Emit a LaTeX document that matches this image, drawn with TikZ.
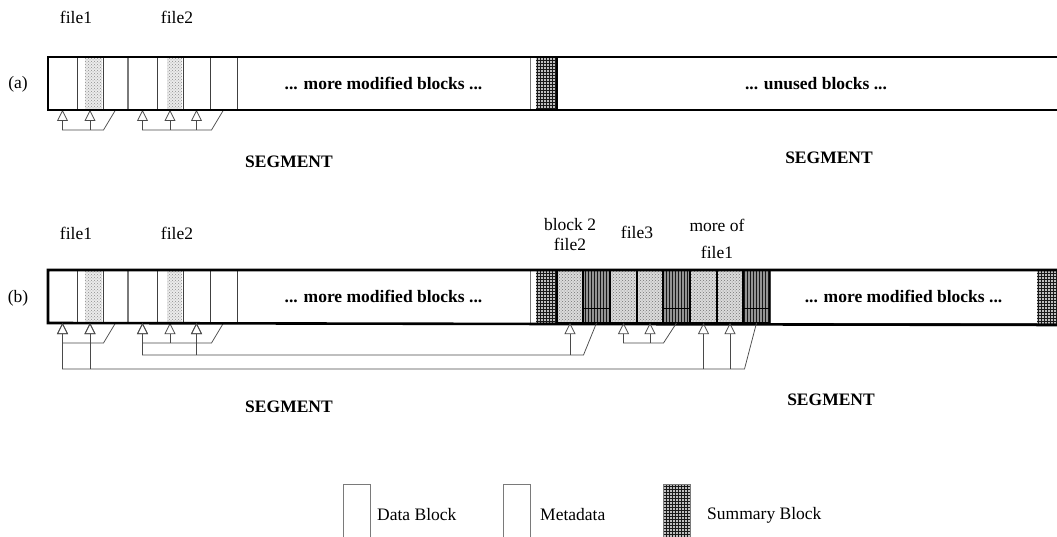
\documentclass[tikz,border=0pt]{standalone}
\usepackage{fontspec}
\setmainfont{Liberation Serif}
\usetikzlibrary{arrows.meta,positioning,patterns}
\definecolor{linkgray}{HTML}{4A4A4A}
\definecolor{edgegray}{HTML}{7A7A7A}
\tikzset{
  datablk/.style={draw=black!75,line width=.8pt,minimum height=53pt,inner sep=0pt,outer sep=0pt},
  metablk/.style={datablk},
  gapblk/.style={datablk,font=\fontsize{17.5}{20}\selectfont\bfseries},
  newblk/.style={datablk,draw=black,line width=1.4pt,preaction={fill=black!14},pattern=crosshatch dots,pattern color=black!55},
  newmeta/.style={datablk,draw=black,line width=1.4pt,preaction={fill=black!42},pattern=vertical lines,pattern color=black!90},
  sumfill/.style={preaction={fill=black!25},pattern=grid,pattern color=black!90},
  stipple/.style={preaction={fill=black!8},pattern=crosshatch dots,pattern color=black!45},
  frame/.style={line width=2.6pt,black},
  link/.style={draw=linkgray,line width=.75pt},
  ptr/.style={link,-{Triangle[open,length=11pt,width=11pt]}},
  lbl/.style={font=\fontsize{17.5}{20}\selectfont,inner sep=2pt},
  seglbl/.style={lbl,font=\fontsize{17.5}{20}\selectfont\bfseries},
  legblk/.style={draw=edgegray,line width=1pt,minimum width=27pt,minimum height=62pt,inner sep=0pt,outer sep=0pt,anchor=north west},
}
\begin{document}
\begin{tikzpicture}[x=1pt,y=-1pt]
  \useasboundingbox (0,0) rectangle (1057,537);
  % the two log rows share the same first segment
  \foreach \r/\y in {a/57,b/270}{
    \node[datablk,minimum width=29pt,anchor=north west] (\r1) at (48,\y) {};
    \node[datablk,minimum width=26pt,right=0pt of \r1] (\r2) {};
    \node[metablk,minimum width=25pt,right=0pt of \r2] (\r3) {};
    \node[datablk,minimum width=29pt,right=0pt of \r3] (\r4) {};
    \node[datablk,minimum width=26pt,right=0pt of \r4] (\r5) {};
    \node[datablk,minimum width=27pt,right=0pt of \r5] (\r6) {};
    \node[metablk,minimum width=27pt,right=0pt of \r6] (\r7) {};
    \node[gapblk,minimum width=293pt,right=0pt of \r7] (\r8) {... more modified blocks ...};
    \node[datablk,draw=edgegray,minimum width=27pt,right=0pt of \r8] (\r9) {};
    \fill[stipple] ([xshift=8pt]\r2.north west) rectangle ([xshift=-1pt]\r2.south east);
    \fill[stipple] ([xshift=10pt]\r5.north west) rectangle ([xshift=-1pt]\r5.south east);
    \fill[sumfill] ([xshift=6pt]\r9.north west) rectangle (\r9.south east);
    \draw[line width=2pt,edgegray] (\r3.north east) -- (\r3.south east);
    % pointers inside the first segment
    \draw[ptr] (\r3.south) -- ++(-12,20) coordinate (h\r1) -| (\r1.south);
    \draw[ptr] (\r2.south |- h\r1) -- (\r2.south);
    \draw[ptr] (\r7.south) -- ++(-12,20) coordinate (h\r2) -| (\r4.south);
    \draw[ptr] (\r5.south |- h\r2) -- (\r5.south);
    \draw[ptr] (\r6.south |- h\r2) -- (\r6.south);
  }
  % row (a): rest of the log is empty
  \node[gapblk,draw=none,minimum width=518pt,right=0pt of a9] (a10) {... unused blocks ...};
  \draw[frame] (1062,57) -- (a1.north west) -- (a1.south west) -- (1062,110);
  \draw[frame] (a9.north east) -- (a9.south east);
  % row (b): new segment written after the first one
  \node[newblk,minimum width=26pt,right=0pt of b9] (b10) {};
  \node[newmeta,minimum width=27pt,right=0pt of b10] (b11) {};
  \node[newblk,minimum width=27pt,right=0pt of b11] (b12) {};
  \node[newblk,minimum width=26pt,right=0pt of b12] (b13) {};
  \node[newmeta,minimum width=27pt,right=0pt of b13] (b14) {};
  \node[newblk,minimum width=27pt,right=0pt of b14] (b15) {};
  \node[newblk,minimum width=26pt,right=0pt of b15] (b16) {};
  \node[newmeta,minimum width=27pt,right=0pt of b16] (b17) {};
  \node[gapblk,minimum width=267pt,right=0pt of b17] (b18) {... more modified blocks ...};
  \node[datablk,draw=edgegray,minimum width=25pt,right=0pt of b18] (b19) {};
  \fill[sumfill] (b19.north west) rectangle (b19.south east);
  \foreach \m in {b11,b14,b17}
    \draw[black,line width=.6pt] ([yshift=15pt]\m.south west) -- ([yshift=15pt]\m.south east);
  \draw[frame] (1062,270) -- (b1.north west) -- (b1.south west) -- (1062,325);
  \draw[frame] (b9.north east) -- (b9.south east);
  % pointers from the new segment back to live blocks
  \draw[ptr] (b11.south) -- ++(-13,32) coordinate (hb3) -| (b4.south);
  \draw[ptr] (b6.south |- hb3) -- (b6.south);
  \draw[ptr] (b10.south |- hb3) -- (b10.south);
  \draw[ptr] (b14.south) -- ++(-13,20) coordinate (hb4) -| (b12.south);
  \draw[ptr] (b13.south |- hb4) -- (b13.south);
  \draw[ptr] (b17.south) -- ++(-12,46) coordinate (hb5) -| (b1.south);
  \draw[ptr] (b2.south |- hb5) -- (b2.south);
  \draw[ptr] (b15.south |- hb5) -- (b15.south);
  \draw[ptr] (b16.south |- hb5) -- (b16.south);
  % labels
  \node[lbl] (rowa) at (18,84) {(a)};
  \node[lbl] (rowb) at (18,298) {(b)};
  \node[lbl] (fa1) at (76,17) {file1};
  \node[lbl] (fa2) at (177,17) {file2};
  \node[lbl] (fb1) at (76,233) {file1};
  \node[lbl] (fb2) at (177,233) {file2};
  \node[lbl,align=center] (fb3) at (570,235) {block 2\\file2};
  \node[lbl] (fb4) at (637,232) {file3};
  \node[lbl,align=center] (fb5) at (717,239) {more of\\[7pt]file1};
  \node[seglbl] (sa1) at (289,162) {SEGMENT};
  \node[seglbl] (sa2) at (829,158) {SEGMENT};
  \node[seglbl] (sb1) at (289,407) {SEGMENT};
  \node[seglbl] (sb2) at (831,400) {SEGMENT};
  % legend
  \node[legblk] (ldata) at (343,484) {};
  \node[lbl,right=5pt of ldata] (tdata) {Data Block};
  \node[legblk] (lmeta) at (503,484) {};
  \node[lbl,right=8pt of lmeta] (tmeta) {Metadata};
  \node[legblk,sumfill] (lsum) at (663,484) {};
  \node[lbl,right=15pt of lsum] (tsum) {Summary Block};
\end{tikzpicture}
\end{document}
